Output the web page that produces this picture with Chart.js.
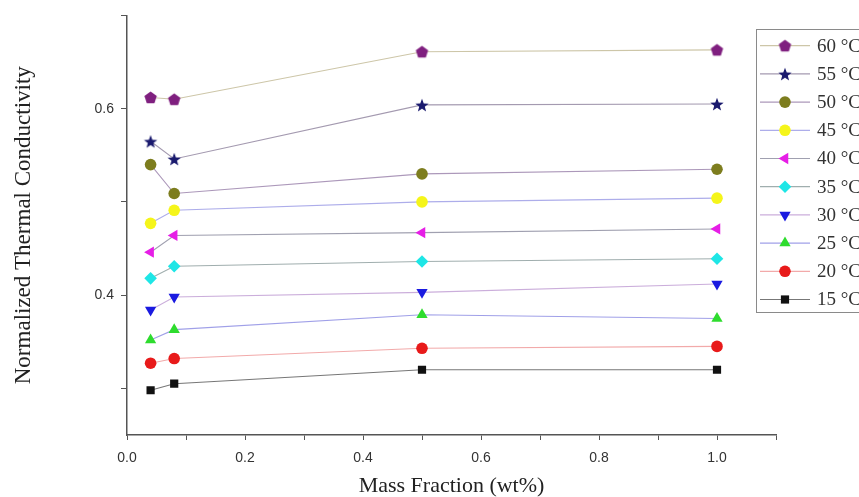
<!DOCTYPE html>
<html><head><meta charset="utf-8">
<script src="https://cdn.jsdelivr.net/npm/chart.js@4"></script>
<style>html,body{margin:0;padding:0;background:#fff}#wrap{width:859px;height:497px;position:relative}</style>
</head><body><div id="wrap"><canvas id="c" width="859" height="497"></canvas></div>
<script>
// ---- data ----
const massFraction = [0.04, 0.08, 0.5, 1.0];
const seriesNames = ['60 °C','55 °C','50 °C','45 °C','40 °C','35 °C','30 °C','25 °C','20 °C','15 °C'];
const t60 = [0.612, 0.610, 0.661, 0.663];
const t55 = [0.565, 0.546, 0.604, 0.605];
const t50 = [0.540, 0.509, 0.530, 0.535];
const t45 = [0.477, 0.491, 0.500, 0.504];
const t40 = [0.446, 0.464, 0.467, 0.471];
const t35 = [0.418, 0.431, 0.436, 0.439];
const t30 = [0.384, 0.398, 0.403, 0.412];
const t25 = [0.352, 0.363, 0.379, 0.375];
const t20 = [0.327, 0.332, 0.343, 0.345];
const t15 = [0.298, 0.305, 0.320, 0.320];
const xTicks = [0,0.1,0.2,0.3,0.4,0.5,0.6,0.7,0.8,0.9,1.0,1.1];
const xTickLabels = ['0.0','','0.2','','0.4','','0.6','','0.8','','1.0',''];
const yTicks = [0.3,0.4,0.5,0.6,0.7];
const yTickLabels = ['','0.4','','0.6',''];

// ---- styling ----
function shapeCanvas(kind, color, r){
  const s = Math.ceil(r*2+2);
  const cv = document.createElement('canvas'); cv.width = s; cv.height = s;
  const g = cv.getContext('2d'); g.fillStyle = color; g.beginPath();
  const cx = s/2, cy = s/2;
  const n = kind === 'pentagon' ? 5 : 10;
  for (let i=0;i<n;i++){
    const a = -Math.PI/2 + i*2*Math.PI/n;
    const rr = kind === 'pentagon' ? r : (i%2 ? r*0.42 : r);
    g.lineTo(cx + rr*Math.cos(a), cy + rr*Math.sin(a) + (kind==='pentagon'?0.5:0.8));
  }
  g.closePath(); g.fill();
  return cv;
}
const styles = [
  {data:t60, mk:'#7f1f7f', line:'#cdc6a8', ps:shapeCanvas('pentagon','#7f1f7f',6.5), rot:0, r:6.5},
  {data:t55, mk:'#1a1a6e', line:'#a49ab0', ps:shapeCanvas('star','#1a1a6e',7), rot:0, r:6},
  {data:t50, mk:'#7d7d1e', line:'#ac98ba', ps:'circle', rot:0, r:5.8},
  {data:t45, mk:'#f5f51a', line:'#adadea', ps:'circle', rot:0, r:5.8},
  {data:t40, mk:'#e61ee6', line:'#a0a0b0', ps:'triangle', rot:-90, r:6.5},
  {data:t35, mk:'#1ee6e6', line:'#a0aeae', ps:'rectRot', rot:0, r:6.3},
  {data:t30, mk:'#1a1ae0', line:'#cbaedb', ps:'triangle', rot:180, r:6.5},
  {data:t25, mk:'#2edc2e', line:'#a0a0e8', ps:'triangle', rot:0, r:6.5},
  {data:t20, mk:'#e81a1a', line:'#f2aaaa', ps:'circle', rot:0, r:5.8},
  {data:t15, mk:'#111111', line:'#777777', ps:'rect', rot:0, r:5.8}
];

const datasets = styles.map((s,i)=>({
  label: seriesNames[i],
  data: massFraction.map((x,j)=>({x:x, y:s.data[j]})),
  borderColor: s.line,
  borderWidth: 1.1,
  backgroundColor: s.mk,
  pointBackgroundColor: s.mk,
  pointBorderColor: s.mk,
  pointBorderWidth: 0,
  pointStyle: s.ps,
  pointRotation: s.rot,
  pointRadius: s.r,
  fill: false,
  tension: 0
}));

const legendPlugin = {
  id: 'customLegend',
  afterDraw(chart){
    const ctx = chart.ctx;
    ctx.save();
    ctx.strokeStyle = '#8a8a8a'; ctx.lineWidth = 1;
    ctx.strokeRect(756.5, 29.5, 130, 283);
    chart.data.datasets.forEach((ds,i)=>{
      const y = 45.7 + i*28.2;
      ctx.strokeStyle = ds.borderColor; ctx.lineWidth = 1.2;
      ctx.beginPath(); ctx.moveTo(760, y); ctx.lineTo(810, y); ctx.stroke();
      ctx.fillStyle = ds.pointBackgroundColor; ctx.strokeStyle = ds.pointBorderColor;
      Chart.helpers.drawPoint(ctx, {pointStyle: ds.pointStyle, rotation: ds.pointRotation, radius: ds.pointRadius, borderWidth: 0}, 785, y);
      ctx.fillStyle = '#333';
      ctx.font = '19px "Liberation Serif", "Times New Roman", serif';
      ctx.textBaseline = 'middle'; ctx.textAlign = 'left';
      ctx.fillText(ds.label, 817, y + 1);
    });
    ctx.restore();
  }
};

new Chart(document.getElementById('c'), {
  type: 'line',
  data: { datasets },
  plugins: [legendPlugin],
  options: {
    responsive: false,
    animation: false,
    devicePixelRatio: 1,
    layout: { padding: { top: 15, right: 83, left: 0, bottom: 0 } },
    plugins: { legend: { display: false }, tooltip: { enabled: false } },
    scales: {
      x: {
        type: 'linear', min: 0, max: 1.1,
        afterBuildTicks: s => { s.ticks = xTicks.map(v=>({value:v})); },
        afterFit: s => { s.height = 62; },
        ticks: { callback: (v, i) => xTickLabels[i], color: '#333', padding: 10, maxRotation: 0, autoSkip: false,
                 font: { family: '"Liberation Sans", Arial, sans-serif', size: 14 } },
        grid: { drawOnChartArea: false, drawTicks: true, tickLength: 5, color: '#555' },
        border: { color: '#555', width: 1.5 },
        title: { display: true, text: 'Mass Fraction (wt%)', color: '#222', padding: { top: 0, bottom: 0 },
                 font: { family: '"Liberation Serif", "Times New Roman", serif', size: 22, lineHeight: 1.0 } }
      },
      y: {
        type: 'linear', min: 0.25, max: 0.7,
        afterBuildTicks: s => { s.ticks = yTicks.map(v=>({value:v})); },
        afterFit: s => { s.width = 127; },
        ticks: { callback: (v, i) => yTickLabels[i], color: '#333', padding: 7, autoSkip: false,
                 font: { family: '"Liberation Sans", Arial, sans-serif', size: 14 } },
        grid: { drawOnChartArea: false, drawTicks: true, tickLength: 6, color: '#555' },
        border: { color: '#555', width: 1.5 },
        title: { display: true, text: 'Normalized Thermal Conductivity', color: '#222', padding: { top: 12, bottom: 0 },
                 font: { family: '"Liberation Serif", "Times New Roman", serif', size: 23, lineHeight: 1.0 } }
      }
    }
  }
});
</script></body></html>
